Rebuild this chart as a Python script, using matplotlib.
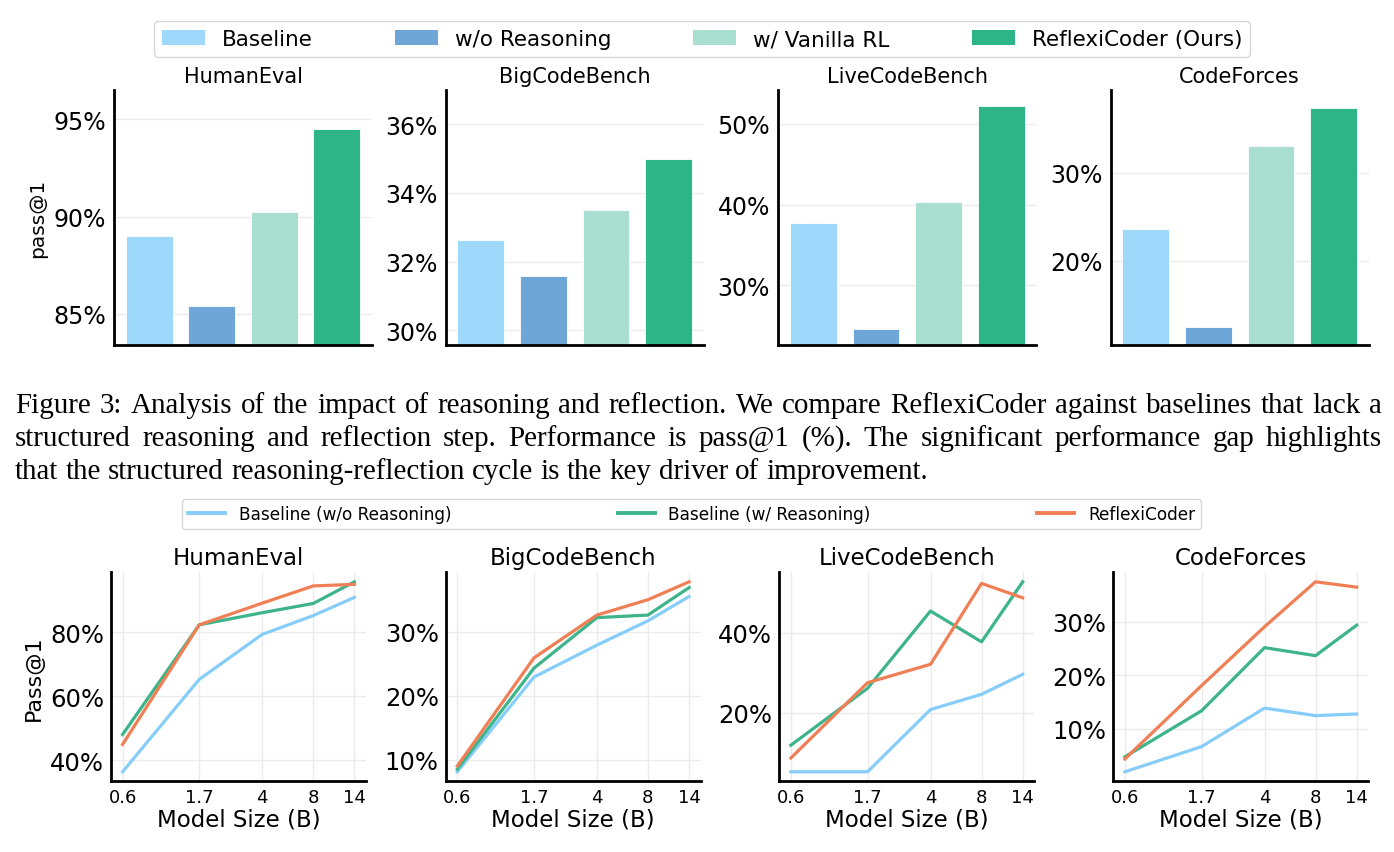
import matplotlib
matplotlib.use("Agg")
import matplotlib.pyplot as plt
from matplotlib.patches import Patch
from matplotlib.lines import Line2D
from matplotlib.ticker import MultipleLocator, FuncFormatter, NullLocator

# ---- data ----
benchmarks = ["HumanEval", "BigCodeBench", "LiveCodeBench", "CodeForces"]

# top row: ablation bars (pass@1, %)
bar_labels = ["Baseline", "w/o Reasoning", "w/ Vanilla RL", "ReflexiCoder (Ours)"]
bar_colors = ["#9ED9FC", "#6EA6D8", "#A8DFD1", "#2DB588"]
humaneval_bars = [89.0, 85.4, 90.25, 94.5]
bigcodebench_bars = [32.62, 31.57, 33.5, 35.0]
livecodebench_bars = [37.7, 24.6, 40.3, 52.2]
codeforces_bars = [23.65, 12.45, 32.95, 37.35]
bar_steps = [5, 2, 10, 10]

# bottom row: scaling with model size
model_sizes = [0.6, 1.7, 4, 8, 14]
size_labels = ["0.6", "1.7", "4", "8", "14"]
line_labels = ["Baseline (w/o Reasoning)", "Baseline (w/ Reasoning)", "ReflexiCoder"]
line_colors = ["#86CDFA", "#3DB489", "#F07F55"]

humaneval_wo = [36.3, 65.3, 79.4, 85.3, 91.0]
humaneval_w = [48.0, 82.4, 86.2, 89.1, 95.9]
humaneval_ours = [44.9, 82.4, 89.2, 94.6, 95.1]

bigcodebench_wo = [8.1, 22.9, 27.9, 31.7, 35.5]
bigcodebench_w = [8.5, 24.3, 32.2, 32.6, 36.9]
bigcodebench_ours = [9.0, 25.9, 32.6, 35.0, 37.8]

livecodebench_wo = [5.25, 5.25, 20.8, 24.6, 29.6]
livecodebench_w = [11.9, 26.1, 45.4, 37.7, 52.7]
livecodebench_ours = [8.7, 27.5, 32.1, 52.3, 48.7]

codeforces_wo = [2.0, 6.7, 13.9, 12.5, 12.8]
codeforces_w = [4.8, 13.4, 25.2, 23.7, 29.4]
codeforces_ours = [4.4, 18.1, 29.1, 37.5, 36.5]

line_steps = [20, 10, 20, 10]

W, H = 1394, 853
fig = plt.figure(figsize=(W / 100, H / 100), dpi=100)
pct = FuncFormatter(lambda v, p: f"{v:.0f}%")


def px_axes(x0, y0, x1, y1):
    # pixel box (top-left origin) -> figure axes
    return fig.add_axes([x0 / W, 1 - y1 / H, (x1 - x0) / W, (y1 - y0) / H])


def style_spines(ax):
    for s in ["top", "right"]:
        ax.spines[s].set_visible(False)
    for s in ["left", "bottom"]:
        ax.spines[s].set_linewidth(2)
        ax.spines[s].set_color("black")


# ---- top row: bars ----
top_left = [114, 445.7, 778.3, 1110.7]
all_bars = [humaneval_bars, bigcodebench_bars, livecodebench_bars, codeforces_bars]
for i, vals in enumerate(all_bars):
    ax = px_axes(top_left[i], 91, top_left[i] + 258, 346)
    ax.bar(range(4), vals, width=0.75, color=bar_colors, edgecolor="white", linewidth=0.6)
    ax.set_ylim(min(vals) - 2, max(vals) + 2)
    ax.yaxis.set_major_locator(MultipleLocator(bar_steps[i]))
    ax.yaxis.set_major_formatter(pct)
    ax.set_xticks([])
    ax.tick_params(axis="y", length=0, labelsize=17, pad=6)
    ax.grid(axis="y", color="#ebebeb", linewidth=1)
    ax.set_axisbelow(True)
    style_spines(ax)
    ax.set_title(benchmarks[i], fontsize=15)
    if i == 0:
        ax.set_ylabel("pass@1", fontsize=14.5)

bar_handles = [Patch(facecolor=c, label=l) for c, l in zip(bar_colors, bar_labels)]
fig.legend(handles=bar_handles, loc="center", bbox_to_anchor=(702 / W, 1 - 40 / H),
           ncol=4, fontsize=15.5, columnspacing=3.8, handlelength=2.0,
           frameon=True, borderpad=0.35)

# ---- caption (justified like the paper text) ----
caption = [
    "Figure 3: Analysis of the impact of reasoning and reflection. We compare ReflexiCoder against baselines that lack a",
    "structured reasoning and reflection step. Performance is pass@1 (%). The significant performance gap highlights",
    "that the structured reasoning-reflection cycle is the key driver of improvement.",
]
cap_size = 20.9
renderer = fig.canvas.get_renderer()
x_start, x_end = 15, 1382
for k, line in enumerate(caption):
    y = 1 - (413 + 33 * k) / H
    words = line.split(" ")
    texts = [fig.text(0, y, w, fontsize=cap_size, family="Liberation Serif",
                      va="baseline", ha="left") for w in words]
    widths = [t.get_window_extent(renderer).width for t in texts]
    if k < len(caption) - 1:
        gap = (x_end - x_start - sum(widths)) / (len(words) - 1)
    else:
        gap = 0.25 * cap_size * 100 / 72
    x = x_start
    for t, w in zip(texts, widths):
        t.set_x(x / W)
        x += w + gap

# ---- bottom row: lines ----
bottom_left = [111, 445.7, 779.3, 1113.3]
all_lines = [
    [humaneval_wo, humaneval_w, humaneval_ours],
    [bigcodebench_wo, bigcodebench_w, bigcodebench_ours],
    [livecodebench_wo, livecodebench_w, livecodebench_ours],
    [codeforces_wo, codeforces_w, codeforces_ours],
]
for i, series in enumerate(all_lines):
    ax = px_axes(bottom_left[i], 573.3, bottom_left[i] + 255, 782.3)
    for vals, c, l in zip(series, line_colors, line_labels):
        ax.plot(model_sizes, vals, color=c, linewidth=2.3, label=l)
    ax.set_xscale("log")
    ax.set_xticks(model_sizes)
    ax.set_xticklabels(size_labels)
    ax.xaxis.set_minor_locator(NullLocator())
    ax.yaxis.set_major_locator(MultipleLocator(line_steps[i]))
    ax.yaxis.set_major_formatter(pct)
    ax.tick_params(axis="x", length=0, labelsize=13, pad=5)
    ax.tick_params(axis="y", length=0, labelsize=17.5, pad=5)
    ax.grid(color="#ebebeb", linewidth=1)
    ax.set_axisbelow(True)
    style_spines(ax)
    ax.set_title(benchmarks[i], fontsize=16.5)
    ax.set_xlabel("Model Size (B)", fontsize=16.5, labelpad=1)
    if i == 0:
        ax.set_ylabel("Pass@1", fontsize=16)

line_handles = [Line2D([], [], color=c, linewidth=2.8, label=l) for c, l in zip(line_colors, line_labels)]
fig.legend(handles=line_handles, loc="lower left", mode="expand", ncol=3,
           bbox_to_anchor=(182 / W, 1 - 530 / H, (1201 - 182) / W, 30 / H),
           fontsize=12.2, handlelength=2.2, borderpad=0.35, borderaxespad=0,
           frameon=True)

fig.savefig("out.png", dpi=100)
